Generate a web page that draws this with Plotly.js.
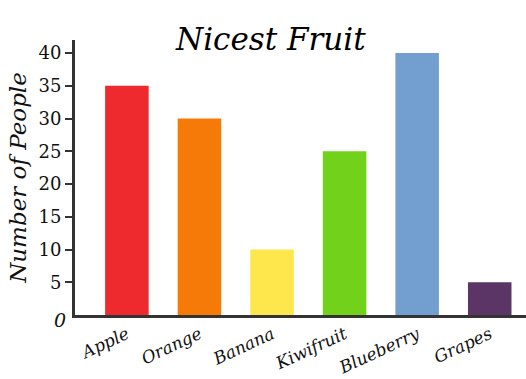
<!DOCTYPE html>
<html><head><meta charset="utf-8">
<script src="https://cdn.plot.ly/plotly-3.0.1.min.js"></script>
<style>html,body{margin:0;padding:0;background:#fff}#chart{width:526px;height:379px}</style>
</head><body><div id="chart"></div>
<script>
const fruits = ["Apple", "Orange", "Banana", "Kiwifruit", "Blueberry", "Grapes"];
const people = [35, 30, 10, 25, 40, 5];
const colors = ["#EE2A2E", "#F57A08", "#FDE74C", "#72D21B", "#729FCF", "#5B3566"];
const yTicks = [5, 10, 15, 20, 25, 30, 35, 40];
const FONT = "DejaVu Serif, Liberation Serif, serif";

Plotly.newPlot("chart", [{
  type: "bar", x: fruits, y: people,
  marker: {color: colors}, hoverinfo: "none"
}], {
  width: 526, height: 379,
  margin: {l: 75, r: 0, t: 40, b: 64},
  paper_bgcolor: "#fff", plot_bgcolor: "#fff",
  bargap: 0.4,
  font: {family: FONT, color: "#111"},
  title: {text: "<i>Nicest Fruit</i>", font: {family: FONT, size: 31, color: "#000"}, x: 0.515, xanchor: "center", y: 0.898, yanchor: "middle"},
  xaxis: {
    range: [-0.715, 5.5], showgrid: false, zeroline: false,
    showline: true, linecolor: "#333", linewidth: 3,
    ticks: "", tickangle: -25,
    tickfont: {family: FONT, size: 17, color: "#111", style: "italic"}
  },
  yaxis: {
    range: [0, 42], showgrid: false, zeroline: false,
    showline: true, linecolor: "#333", linewidth: 3,
    tickvals: yTicks, ticks: "outside", ticklen: 7, tickwidth: 2, tickcolor: "#333",
    tickfont: {family: FONT, size: 18, color: "#111"},
    title: {text: "<i>Number of People</i>", font: {family: FONT, size: 23, color: "#111"}, standoff: 6}
  },
  annotations: [{
    text: "<i>0</i>", xref: "paper", yref: "paper", x: -0.015, y: 0, xanchor: "right", yanchor: "top",
    showarrow: false, font: {family: FONT, size: 19, color: "#111"}, yshift: 8
  }]
}, {staticPlot: true});
</script></body></html>
